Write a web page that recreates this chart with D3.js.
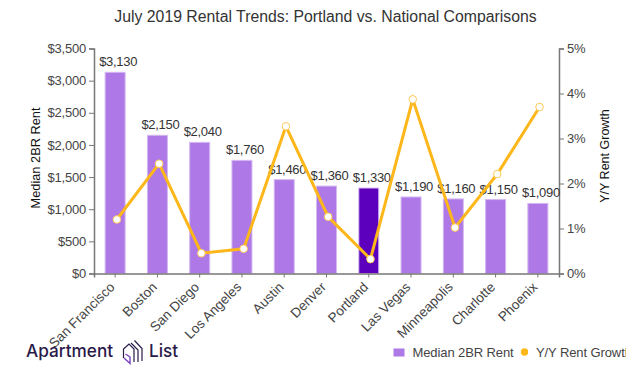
<!DOCTYPE html>
<html>
<head>
<meta charset="utf-8">
<script src="https://cdn.jsdelivr.net/npm/d3@7"></script>
<style>
  html, body { margin: 0; padding: 0; background: #fff; }
  svg { display: block; font-family: "Liberation Sans", Arial, sans-serif; }
  .domain, .tick line { stroke: #777; }
  .tick text { fill: #444; font-size: 13px; letter-spacing: -0.2px; }
</style>
</head>
<body>
<div id="chart"></div>
<script>
const cities = ["San Francisco", "Boston", "San Diego", "Los Angeles", "Austin", "Denver",
                "Portland", "Las Vegas", "Minneapolis", "Charlotte", "Phoenix"];
const rent = [3130, 2150, 2040, 1760, 1460, 1360, 1330, 1190, 1160, 1150, 1090];
const growth = [1.2, 2.44, 0.45, 0.55, 3.27, 1.26, 0.32, 3.87, 1.02, 2.21, 3.7];
const rentTicks = [0, 500, 1000, 1500, 2000, 2500, 3000, 3500];
const growthTicks = [0, 1, 2, 3, 4, 5];
const highlight = "Portland";

const width = 632, height = 367;
const margin = {top: 48.5, right: 73, bottom: 93.5, left: 94};
const innerW = width - margin.left - margin.right,
      innerH = height - margin.top - margin.bottom;

const svg = d3.select("#chart").append("svg")
    .attr("width", width)
    .attr("height", height);

const x = d3.scaleBand().domain(cities).range([0, innerW]);
const yRent = d3.scaleLinear().domain([0, 3500]).range([innerH, 0]);
const yGrowth = d3.scaleLinear().domain([0, 5]).range([innerH, 0]);

svg.append("text")
    .attr("x", 325.5).attr("y", 22)
    .attr("text-anchor", "middle")
    .attr("fill", "#333")
    .style("font-size", "15.8px")
    .text("July 2019 Rental Trends: Portland vs. National Comparisons");

const g = svg.append("g")
    .attr("transform", `translate(${margin.left},${margin.top})`);

// bars
g.selectAll(".bar")
    .data(cities)
    .enter()
    .append("rect")
    .attr("class", "bar")
    .attr("x", d => x(d) + x.bandwidth() / 2 - 10)
    .attr("width", 20)
    .attr("y", (d, i) => yRent(rent[i]))
    .attr("height", (d, i) => innerH - yRent(rent[i]))
    .attr("fill", d => d === highlight ? "#5c00bd" : "#ae78e6")
    .attr("stroke", d => d === highlight ? "#d9c2f2" : "#d4b8f2")
    .attr("stroke-width", 1);

// axes
const xAxis = g.append("g")
    .attr("transform", `translate(0,${innerH})`)
    .call(d3.axisBottom(x).tickSize(4));
xAxis.select(".domain").attr("stroke-width", 1.5);
xAxis.selectAll(".tick text")
    .attr("x", 0)
    .attr("y", 0)
    .attr("dy", ".35em")
    .attr("text-anchor", "end")
    .style("font-size", "13.5px")
    .style("letter-spacing", "0")
    .attr("transform", "translate(-3,11) rotate(-45)");

const leftAxis = g.append("g")
    .call(d3.axisLeft(yRent).tickValues(rentTicks).tickFormat(d3.format("$,")).tickSize(5).tickPadding(3));
leftAxis.select(".domain").attr("stroke-width", 1.5);

const rightAxis = g.append("g")
    .attr("transform", `translate(${innerW},0)`)
    .call(d3.axisRight(yGrowth).tickValues(growthTicks).tickFormat(d => d + "%").tickSize(5).tickPadding(3));
rightAxis.select(".domain").attr("stroke-width", 1.5);

// bar value labels
g.selectAll(".bar-label")
    .data(cities)
    .enter()
    .append("text")
    .attr("class", "bar-label")
    .attr("x", d => x(d) + x.bandwidth() / 2 + 3)
    .attr("y", (d, i) => yRent(rent[i]) - 6)
    .attr("text-anchor", "middle")
    .attr("fill", "#333")
    .style("font-size", "13px")
    .style("letter-spacing", "-0.3px")
    .text((d, i) => d3.format("$,")(rent[i]));

// growth line
const px = d => x(d) + x.bandwidth() / 2 + 1.7;
const line = d3.line()
    .x(d => px(d))
    .y((d, i) => yGrowth(growth[i]));

g.append("path")
    .datum(cities)
    .attr("d", line)
    .attr("fill", "none")
    .attr("stroke", "#fdb71a")
    .attr("stroke-width", 3);

g.selectAll(".point")
    .data(cities)
    .enter()
    .append("circle")
    .attr("class", "point")
    .attr("cx", d => px(d))
    .attr("cy", (d, i) => yGrowth(growth[i]))
    .attr("r", 3.8)
    .attr("fill", "#fff")
    .attr("stroke", "#fdc95a")
    .attr("stroke-width", 1);

// axis titles
svg.append("text")
    .attr("transform", "translate(39.5,158) rotate(-90)")
    .attr("text-anchor", "middle")
    .attr("fill", "#111")
    .style("font-size", "12.8px")
    .text("Median 2BR Rent");

svg.append("text")
    .attr("transform", "translate(609,156) rotate(-90)")
    .attr("text-anchor", "middle")
    .attr("fill", "#111")
    .style("font-size", "12.5px")
    .text("Y/Y Rent Growth");

// legend, cut off by the right edge as in the original
svg.append("clipPath").attr("id", "legend-clip")
    .append("rect").attr("x", 380).attr("y", 340).attr("width", 246).attr("height", 27);

const legend = svg.append("g").attr("clip-path", "url(#legend-clip)");
legend.append("rect")
    .attr("x", 393.5).attr("y", 348.5).attr("width", 11).attr("height", 8)
    .attr("fill", "#ae78e6");
legend.append("text")
    .attr("x", 412.5).attr("y", 356.5)
    .attr("fill", "#444")
    .style("font-size", "13px")
    .style("letter-spacing", "-0.1px")
    .text("Median 2BR Rent");
legend.append("circle")
    .attr("cx", 524.5).attr("cy", 352)
    .attr("r", 3.7)
    .attr("fill", "#fdb71a");
legend.append("text")
    .attr("x", 536).attr("y", 356.5)
    .attr("fill", "#444")
    .style("font-size", "13px")
    .style("letter-spacing", "-0.1px")
    .text("Y/Y Rent Growth");

// logo
const logo = svg.append("g")
    .style("font-family", "Inter, sans-serif")
    .style("font-weight", 500)
    .style("font-size", "17.2px")
    .attr("fill", "#2a1a4a");
logo.append("text").attr("x", 26).attr("y", 357).text("Apartment");
logo.append("text").attr("x", 149).attr("y", 357).text("List");
logo.append("path")
    .attr("d", "M123.5 358 V349 L129 344 L134 349 V362")
    .attr("fill", "none").attr("stroke", "#2a1a4a").attr("stroke-width", 1.2);
logo.append("path")
    .attr("d", "M124 358 L130 363.5 V357 L125.5 354")
    .attr("fill", "none").attr("stroke", "#7b3fc4").attr("stroke-width", 1.4);
logo.append("path")
    .attr("d", "M131 343 L138 350 V362 M134.5 340.5 L142 348.5 V361")
    .attr("fill", "none").attr("stroke", "#2a1a4a").attr("stroke-width", 1.2);
</script>
</body>
</html>
